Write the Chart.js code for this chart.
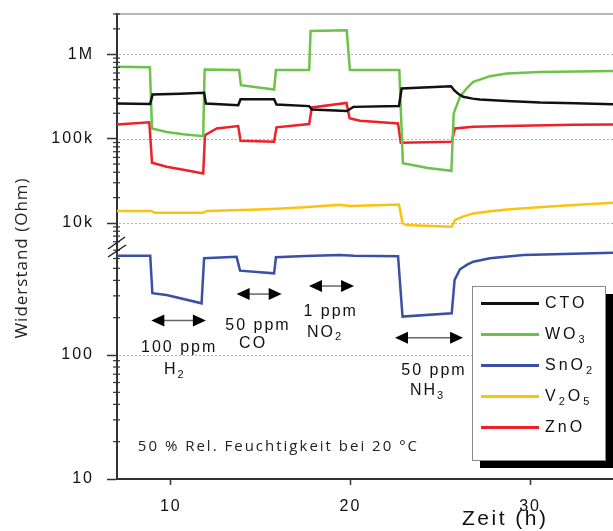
<!DOCTYPE html>
<html>
<head>
<meta charset="utf-8">
<style>
  html, body { margin: 0; padding: 0; background: #fff; }
</style>
</head>
<body>
<canvas id="chart" width="613" height="531"></canvas>
<script src="https://cdn.jsdelivr.net/npm/chart.js@4.4.1/dist/chart.umd.min.js"></script>
<script>
// Sensornamen und Farben
var sensorNames = ['CTO', 'WO3', 'SnO2', 'V2O5', 'ZnO'];
var sensorColors = ['#111111', '#6cc24a', '#3a50a6', '#fdc20d', '#ee2028'];

// Zeit (h) / Widerstand (Ohm)
var ctoT = [7.0, 8.85, 8.98, 10.5, 11.85, 11.95, 13.75, 13.88, 15.75, 15.88, 17.7, 17.85, 19.8, 20.16, 22.7, 22.85, 25.6, 25.8, 26.0, 26.28, 26.8, 27.21, 28.7, 30.56, 32.5, 34.62];
var ctoR = [261e3, 258e3, 333e3, 340e3, 349e3, 261e3, 249e3, 293e3, 293e3, 254e3, 243e3, 222e3, 213e3, 238e3, 243e3, 393e3, 418e3, 370e3, 340e3, 313e3, 298e3, 291e3, 280e3, 268e3, 262e3, 256e3];

var wo3T = [7.0, 8.83, 8.95, 9.76, 10.69, 11.8, 11.88, 13.8, 13.9, 15.75, 15.85, 17.7, 17.78, 19.79, 19.97, 22.72, 22.92, 24.3, 25.62, 25.75, 26.1, 26.5, 26.84, 27.77, 28.7, 30.56, 34.62];
var wo3R = [710e3, 700e3, 132e3, 120e3, 113e3, 107e3, 660e3, 650e3, 430e3, 382e3, 650e3, 650e3, 1.89e6, 1.92e6, 650e3, 650e3, 51e3, 45e3, 41.6e3, 199e3, 313e3, 400e3, 470e3, 550e3, 591e3, 618e3, 634e3];

var sno2T = [7.0, 8.85, 8.97, 9.76, 11.71, 11.85, 13.66, 13.85, 15.75, 15.85, 17.5, 19.4, 20.2, 22.65, 22.9, 25.64, 25.8, 26.1, 26.5, 26.84, 27.77, 29.63, 34.62];
var sno2R = [632, 632, 315, 305, 261, 603, 620, 479, 456, 614, 630, 640, 632, 627, 204, 217, 403, 491, 535, 565, 603, 640, 668];

var v2o5T = [7.0, 8.9, 9.1, 11.8, 12.0, 15.33, 17.2, 19.42, 19.97, 22.7, 22.9, 23.1, 25.64, 25.82, 26.3, 26.84, 27.77, 28.7, 31.49, 34.62];
var v2o5R = [13.9e3, 13.9e3, 13.2e3, 13.2e3, 13.9e3, 14.6e3, 15.3e3, 16.5e3, 15.9e3, 16.6e3, 10.0e3, 9.47e3, 9.04e3, 10.9e3, 12.0e3, 13.0e3, 13.8e3, 14.5e3, 15.9e3, 17.4e3];

var znoT = [7.0, 8.8, 8.95, 9.76, 10.7, 11.8, 11.9, 12.55, 13.75, 13.88, 15.75, 15.88, 17.7, 17.85, 19.78, 19.95, 20.53, 22.65, 22.8, 25.64, 25.82, 26.84, 28.7, 32.4, 34.62];
var znoR = [147e3, 156e3, 51.7e3, 46.4e3, 42.8e3, 38.7e3, 110e3, 132e3, 141e3, 94.2e3, 92e3, 136e3, 149e3, 234e3, 265e3, 175e3, 163e3, 151e3, 89.3e3, 91.6e3, 132e3, 138e3, 141e3, 146e3, 147e3];

// Achsenbeschriftung
var xTickValues = [10, 20, 30];
var yTickValues = [10, 100, 1e4, 1e5, 1e6];
var yTickTexts = ['10', '100', '10k', '100k', '1M'];

// Gas-Pfeile (x in h, y auf der unteren Achse)
var gasArrows = [
  { from: 8.91, to: 11.95, y: 190 },
  { from: 13.66, to: 16.17, y: 310 },
  { from: 17.69, to: 20.2, y: 360 },
  { from: 22.48, to: 26.27, y: 138 }
];
var gasLabels = [
  { text: '100 ppm', x: 10.46, y: 114 },
  { text: 'H2', x: 10.22, y: 75.7, chem: true },
  { text: '50 ppm', x: 14.85, y: 172 },
  { text: 'CO', x: 14.58, y: 124, chem: true },
  { text: '1 ppm', x: 18.9, y: 223 },
  { text: 'NO2', x: 18.58, y: 153, chem: true },
  { text: '50 ppm', x: 24.65, y: 74.6 },
  { text: 'NH3', x: 24.29, y: 51.5, chem: true }
];

function pts(t, r) {
  return t.map(function (v, i) { return { x: v, y: r[i] } })
}

var series = [[ctoT, ctoR], [wo3T, wo3R], [sno2T, sno2R], [v2o5T, v2o5R], [znoT, znoR]];
var datasets = series.map(function (s, i) {
  return {
    label: sensorNames[i],
    data: pts(s[0], s[1]),
    borderColor: sensorColors[i],
    borderWidth: 2.5,
    pointRadius: 0,
    tension: 0,
    fill: false,
    yAxisID: sensorNames[i] === 'SnO2' ? 'yLow' : 'yHigh'
  }
});

function isMajor(v) { return yTickValues.indexOf(v) >= 0 }

function yAxis(min, max, weight) {
  return {
    type: 'logarithmic',
    position: 'left',
    stack: 'y',
    stackWeight: weight,
    min: min,
    max: max,
    afterBuildTicks: function (s) {
      s.ticks = s.ticks.filter(function (t) {
        var m = t.value / Math.pow(10, Math.floor(Math.log10(t.value) + 1e-9));
        return Math.abs(m - Math.round(m)) < 1e-6;
      });
    },
    afterFit: function (s) {
      s.width = 117;
      s.paddingTop = 0;
      s.paddingBottom = 0;
    },
    grid: {
      drawOnChartArea: false,
      tickColor: function (c) { return (c.tick && isMajor(c.tick.value)) ? '#333' : 'rgba(0,0,0,0)' },
      tickLength: 10,
      tickWidth: 1.5
    },
    border: { color: '#333', width: 2 },
    ticks: {
      autoSkip: false,
      padding: 13,
      color: '#111',
      font: { family: 'Liberation Sans', size: 16 },
      callback: function (v) {
        var i = yTickValues.indexOf(v);
        return i >= 0 ? yTickTexts[i] : '';
      }
    }
  }
}

function line(ctx, x1, y1, x2, y2) {
  ctx.beginPath(); ctx.moveTo(x1, y1); ctx.lineTo(x2, y2); ctx.stroke();
}

// Text mit tiefgestellten Ziffern (nur fuer Formeln)
function drawRich(ctx, text, chem, x, y, align, size, spacing) {
  var parts = chem ? text.match(/[0-9]+|[^0-9]+/g) : [text];
  ctx.letterSpacing = spacing + 'px';
  ctx.textBaseline = 'middle';
  ctx.textAlign = 'left';
  var widths = parts.map(function (p) {
    var sub = chem && /[0-9]/.test(p);
    ctx.font = (sub ? Math.round(size * 0.68) : size) + 'px "Liberation Sans"';
    return ctx.measureText(p).width;
  });
  var total = widths.reduce(function (a, b) { return a + b }, 0);
  var cx = align === 'center' ? x - total / 2 : x;
  parts.forEach(function (p, i) {
    var sub = chem && /[0-9]/.test(p);
    ctx.font = (sub ? Math.round(size * 0.68) : size) + 'px "Liberation Sans"';
    ctx.fillText(p, cx, sub ? y + size * 0.32 : y);
    cx += widths[i];
  });
}

var decor = {
  id: 'decor',
  beforeDraw: function (chart) { chart.ctx.letterSpacing = '2px' },
  beforeDatasetsDraw: function (chart) {
    // gepunktete Gitterlinien nur an den Dekaden
    var ctx = chart.ctx, area = chart.chartArea;
    ctx.save();
    ctx.strokeStyle = '#b0b0b0'; ctx.lineWidth = 1;
    ctx.setLineDash([2, 2]);
    [chart.scales.yLow, chart.scales.yHigh].forEach(function (s) {
      yTickValues.forEach(function (v) {
        if (v > s.min && v <= s.max) {
          var py = Math.round(s.getPixelForValue(v)) + 0.5;
          line(ctx, area.left + 2, py, area.right, py);
        }
      });
    });
    ctx.restore();
  },
  afterDraw: function (chart) {
    var ctx = chart.ctx, area = chart.chartArea;
    var sx = chart.scales.x, lo = chart.scales.yLow, hi = chart.scales.yHigh;
    ctx.save();

    // obere Rahmenlinie
    ctx.strokeStyle = '#a0a0a0'; ctx.lineWidth = 1.5;
    line(ctx, area.left, area.top, area.right, area.top);

    // kleine Ticks
    ctx.strokeStyle = '#333'; ctx.lineWidth = 1.2;
    [lo, hi].forEach(function (s) {
      s.ticks.forEach(function (t) {
        if (!isMajor(t.value)) {
          var py = s.getPixelForValue(t.value);
          line(ctx, area.left - 4, py, area.left + 3, py);
        }
      });
    });

    // Achsenbruch
    var j = hi.bottom;
    ctx.strokeStyle = '#222'; ctx.lineWidth = 1.5;
    line(ctx, area.left - 9, j + 2, area.left + 8, j - 10);
    line(ctx, area.left - 9, j + 10, area.left + 9, j - 2);

    // Pfeile
    gasArrows.forEach(function (a) {
      var x1 = sx.getPixelForValue(a.from), x2 = sx.getPixelForValue(a.to), py = lo.getPixelForValue(a.y);
      ctx.strokeStyle = '#666'; ctx.lineWidth = 1.5;
      line(ctx, x1 + 8, py, x2 - 8, py);
      ctx.fillStyle = '#000';
      ctx.beginPath(); ctx.moveTo(x1, py); ctx.lineTo(x1 + 13, py - 6); ctx.lineTo(x1 + 13, py + 6); ctx.closePath(); ctx.fill();
      ctx.beginPath(); ctx.moveTo(x2, py); ctx.lineTo(x2 - 13, py - 6); ctx.lineTo(x2 - 13, py + 6); ctx.closePath(); ctx.fill();
    });

    ctx.fillStyle = '#111';
    gasLabels.forEach(function (g) {
      drawRich(ctx, g.text, g.chem, sx.getPixelForValue(g.x), lo.getPixelForValue(g.y), 'center', 16, 2);
    });

    // Hinweis Feuchte
    ctx.font = '15px "Open Sans"';
    ctx.letterSpacing = '2px';
    ctx.textAlign = 'left'; ctx.textBaseline = 'middle';
    ctx.fillStyle = '#222';
    ctx.fillText('50 % Rel. Feuchtigkeit bei 20 °C', sx.getPixelForValue(8.16), lo.getPixelForValue(18.2));

    // Achsentitel
    ctx.fillStyle = '#111';
    drawRich(ctx, 'Zeit (h)', false, sx.getPixelForValue(26.21), area.bottom + 40, 'left', 21, 2.5);

    ctx.save();
    ctx.translate(22, 258);
    ctx.rotate(-Math.PI / 2);
    ctx.font = '17px "Open Sans"';
    ctx.letterSpacing = '1px';
    ctx.textAlign = 'center'; ctx.textBaseline = 'middle';
    ctx.fillStyle = '#222';
    ctx.fillText('Widerstand (Ohm)', 0, 0);
    ctx.restore();

    // Legende mit Schatten
    var bw = 133, bh = 174, bx = area.right - 8 - bw, by = area.bottom - 19 - bh;
    ctx.fillStyle = '#000'; ctx.fillRect(bx + 8, by + 8, bw, bh);
    ctx.fillStyle = '#fff'; ctx.fillRect(bx, by, bw, bh);
    ctx.strokeStyle = '#888'; ctx.lineWidth = 1; ctx.strokeRect(bx + 0.5, by + 0.5, bw, bh);
    chart.data.datasets.forEach(function (ds, i) {
      var ry = by + 17.5 + i * 31;
      ctx.strokeStyle = ds.borderColor; ctx.lineWidth = 3;
      line(ctx, bx + 9, ry, bx + 67, ry);
      ctx.fillStyle = '#111';
      drawRich(ctx, ds.label, true, bx + 73, ry, 'left', 16, 3);
    });

    ctx.restore();
  }
};

var chart = new Chart(document.getElementById('chart').getContext('2d'), {
  type: 'line',
  data: { datasets: datasets },
  options: {
    responsive: false,
    animation: false,
    events: [],
    layout: { padding: { top: 14, left: 0, right: 0, bottom: 0 } },
    plugins: { legend: { display: false }, tooltip: { enabled: false } },
    scales: {
      x: {
        type: 'linear',
        min: 7,
        max: 34.62,
        afterBuildTicks: function (s) {
          s.ticks = xTickValues.map(function (v) { return { value: v } });
        },
        afterFit: function (s) {
          s.height = 52;
          s.paddingLeft = 0;
          s.paddingRight = 0;
        },
        grid: { drawOnChartArea: false, tickColor: '#333', tickLength: 6, tickWidth: 1.5 },
        border: { color: '#333', width: 2 },
        ticks: { padding: 12, color: '#111', font: { family: 'Liberation Sans', size: 16 } }
      },
      yLow: yAxis(10, 743, 232),
      yHigh: yAxis(5200, 3e6, 233)
    }
  },
  plugins: [decor]
});
</script>
</body>
</html>
